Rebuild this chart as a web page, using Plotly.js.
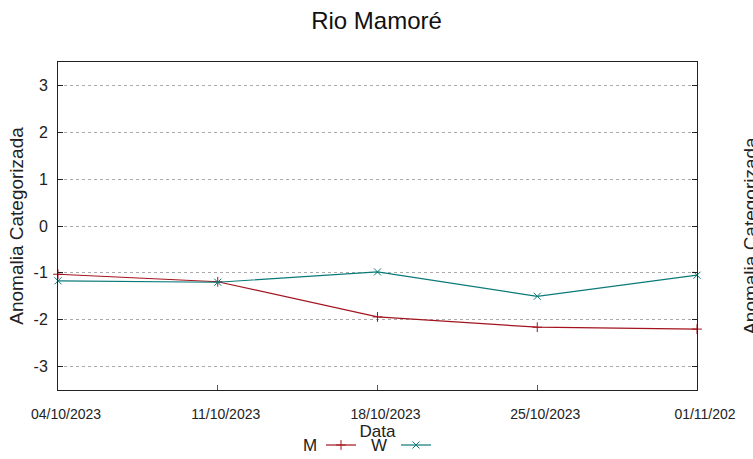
<!DOCTYPE html>
<html>
<head>
<meta charset="utf-8">
<script src="https://cdn.plot.ly/plotly-3.0.1.min.js"></script>
<style>html,body{margin:0;padding:0;background:#fff;overflow:hidden}#chart{width:753px;height:459px}</style>
</head>
<body>
<div id="chart"></div>
<script>
const dates = ["2023-10-04", "2023-10-11", "2023-10-18", "2023-10-25", "2023-11-01"];
const seriesM = [-1.03, -1.19, -1.94, -2.16, -2.20];
const seriesW = [-1.17, -1.20, -0.98, -1.50, -1.05];
const tickVals = ["2023-10-04", "2023-10-11", "2023-10-18", "2023-10-25", "2023-11-01"];
const tickLabels = ["04/10/2023", "11/10/2023", "18/10/2023", "25/10/2023", "01/11/202"];
const yTicks = [-3, -2, -1, 0, 1, 2, 3];
const yTickLabels = ["-3", "-2", "-1", "0", "1", "2", "3"];

const FONT = "Liberation Sans, Arial, sans-serif";
const colM = "#a3141e";
const colW = "#0a7a78";

const traces = [
  {x: dates, y: seriesM, name: " ", type: "scatter", mode: "lines+markers",
   line: {color: colM, width: 1.2},
   marker: {symbol: "cross-thin", size: 7, line: {color: colM, width: 1}, color: colM},
   cliponaxis: false},
  {x: dates, y: seriesW, name: " ", type: "scatter", mode: "lines+markers",
   line: {color: colW, width: 1.2},
   marker: {symbol: "x-thin", size: 7, line: {color: colW, width: 1}, color: colW},
   cliponaxis: false}
];

const layout = {
  width: 753, height: 459,
  margin: {l: 58, r: 56, t: 62, b: 69, autoexpand: false},
  paper_bgcolor: "#fff", plot_bgcolor: "#fff",
  font: {family: FONT, color: "#222"},
  title: {text: "Rio Mamoré", font: {family: FONT, size: 24, color: "#111"}, x: 0.5, xanchor: "center", y: 0.955, yanchor: "middle"},
  showlegend: true,
  legend: {orientation: "h", x: (321 - 58) / 639, xanchor: "left", y: -0.168, yanchor: "middle",
           entrywidth: 30, font: {size: 16}, bgcolor: "rgba(0,0,0,0)", traceorder: "normal"},
  xaxis: {
    type: "date", range: ["2023-10-04", "2023-11-01"], automargin: false,
    tickvals: tickVals, ticktext: tickLabels, tickfont: {size: 14, color: "#222"},
    ticks: "inside", ticklen: 5, tickcolor: "#555", tickwidth: 1,
    showgrid: false, zeroline: false, showline: true, linecolor: "#222", linewidth: 1, mirror: true,
    ticklabelstandoff: 11, ticklabelshift: 8,
    title: {text: "Data", font: {size: 17, color: "#222"}, standoff: 0}
  },
  yaxis: {
    range: [-3.5, 3.5], tickvals: yTicks, ticktext: yTickLabels, tickfont: {size: 16, color: "#222"}, automargin: false,
    ticks: "inside", ticklen: 5, tickcolor: "#222", tickwidth: 1,
    showgrid: true, gridcolor: "#aaa", griddash: "dot", gridwidth: 1,
    zeroline: false, showline: true, linecolor: "#222", linewidth: 1, mirror: "ticks",
    ticklabelstandoff: 6,
    title: {text: "Anomalia Categorizada", font: {size: 19, color: "#222"}, standoff: 4}
  },
  annotations: [
    {text: "M", xref: "paper", yref: "paper", x: (310 - 58) / 639, y: -0.168, xanchor: "center", yanchor: "middle", showarrow: false, font: {size: 17, color: "#222"}},
    {text: "W", xref: "paper", yref: "paper", x: (379 - 58) / 639, y: -0.168, xanchor: "center", yanchor: "middle", showarrow: false, font: {size: 17, color: "#222"}},
    {text: "Anomalia Categorizada", xref: "paper", yref: "paper", x: (751 - 58) / 639, y: 0.47, xanchor: "center", yanchor: "middle", textangle: -90, showarrow: false, font: {size: 19, color: "#222"}}
  ]
};

Plotly.newPlot("chart", traces, layout, {displayModeBar: false, staticPlot: true});
</script>
</body>
</html>
